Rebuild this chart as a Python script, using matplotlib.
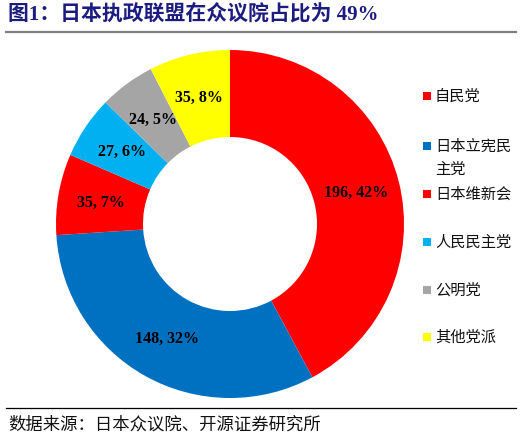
import matplotlib
matplotlib.use("Agg")
import matplotlib.pyplot as plt
import numpy as np
from matplotlib.patches import Rectangle
from matplotlib.lines import Line2D

parties = ["自民党", "日本立宪民\n主党", "日本维新会", "人民民主党", "公明党", "其他党派"]
seats = [196, 148, 35, 27, 24, 35]
percents = [42, 32, 7, 6, 5, 8]
colors = ["#FF0000", "#0070C0", "#FF0000", "#00B0F0", "#A5A5A5", "#FFFF00"]

title = "图1：日本执政联盟在众议院占比为 49%"
source = "数据来源：日本众议院、开源证券研究所"

W, H = 522, 439
fig = plt.figure(figsize=(W / 100, H / 100), dpi=100)

def fx(px):
    return px / W

def fy(py):
    return 1 - py / H

cjk = ["Noto Sans CJK SC", "DejaVu Sans"]
serif_cjk = ["Liberation Serif", "Noto Sans CJK SC"]

# Title
fig.text(fx(8), fy(15), title, fontsize=15, fontweight="bold", color="#1c1c80",
         family=serif_cjk, va="center", ha="left")
fig.add_artist(Line2D([fx(6), fx(516)], [fy(33), fy(33)], color="#7f7f7f", lw=1.6))

# Donut
cx, cy, r = 230, 225, 174
ax = fig.add_axes([fx(cx - r), fy(cy + r), 2 * r / W, 2 * r / H])
wedges, _ = ax.pie(seats, colors=colors, startangle=90, counterclock=False,
                   radius=1.0, wedgeprops=dict(width=0.5, linewidth=0))
ax.set_xlim(-1, 1)
ax.set_ylim(-1, 1)
ax.set_aspect("equal")
ax.axis("off")

for w, s, p in zip(wedges, seats, percents):
    ang = np.deg2rad((w.theta1 + w.theta2) / 2)
    ax.text(0.75 * np.cos(ang), 0.75 * np.sin(ang), f"{s}, {p}%",
            ha="center", va="center", fontsize=11.5, fontweight="bold",
            family=["Liberation Serif"], color="black")

# Legend (manual)
rows = [97, 147, 195, 243, 291, 338]
for name, col, ry in zip(parties, colors, rows):
    fig.add_artist(Rectangle((fx(423), fy(ry + 4)), 8 / W, 8 / H, facecolor=col,
                             edgecolor="none", transform=fig.transFigure))
    fig.text(fx(435), fy(ry - 9), name, fontsize=11, family=cjk, color="#111111",
             ha="left", va="top", linespacing=1.45)

# Source
fig.add_artist(Line2D([fx(6), fx(516)], [fy(409), fy(409)], color="black", lw=0.9))
fig.text(fx(8), fy(425), source, fontsize=12.5, family=cjk, color="#111111",
         ha="left", va="center")

fig.savefig("out.png", dpi=100)
